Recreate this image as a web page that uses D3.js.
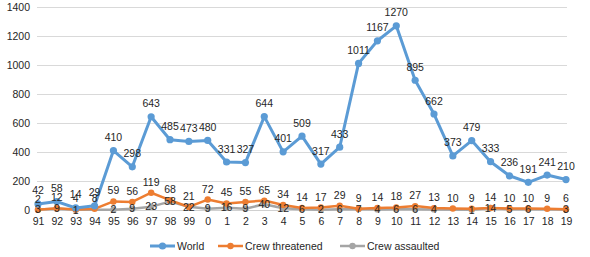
<!DOCTYPE html>
<html>
<head>
<meta charset="utf-8">
<script src="https://cdn.jsdelivr.net/npm/d3@7"></script>
<style>
  body { margin: 0; background: #fff; }
  svg { display: block; font-family: "Liberation Sans", Arial, sans-serif; }
</style>
</head>
<body>
<svg id="chart" width="590" height="257"></svg>
<script>
const width = 590;
const height = 257;

// years on the category axis
const years = ["91","92","93","94","95","96","97","98","99","0","1","2","3","4","5","6","7","8","9","10","11","12","13","14","15","16","17","18","19"];
const world = [42,58,14,29,410,298,643,485,473,480,331,327,644,401,509,317,433,1011,1167,1270,895,662,373,479,333,236,191,241,210];
const crewThreatened = [2,12,4,8,59,56,119,68,21,72,45,55,65,34,14,17,29,9,14,18,27,13,10,9,14,10,10,9,6];
// null = no label visible in the picture, line just connects over it
const crewAssaulted = [3,9,1,null,2,9,23,58,22,9,16,9,40,12,6,2,6,7,4,6,6,4,null,1,14,5,6,null,3];
const yTicks = [0,200,400,600,800,1000,1200,1400];

const series = [
    { name: "World", values: world, color: "#5b9bd5", lw: 3, r: 3.6, labelDy: -9.5 },
    { name: "Crew threatened", values: crewThreatened, color: "#ed7d31", lw: 2.5, r: 3.2, labelDy: -7 },
    { name: "Crew assaulted", values: crewAssaulted, color: "#a5a5a5", lw: 2.5, r: 3.2, labelDy: 3.7 }
];

const svg = d3.select("#chart");

const x = d3.scalePoint()
    .domain(years)
    .range([38, 566]);

const y = d3.scaleLinear()
    .domain([0, 1400])
    .range([210, 7]);

// gridlines
svg.append("g")
    .selectAll("line")
    .data(yTicks)
    .join("line")
    .attr("x1", 37)
    .attr("x2", 567)
    .attr("y1", d => Math.round(y(d)) + 0.5)
    .attr("y2", d => Math.round(y(d)) + 0.5)
    .attr("stroke", d => d === 0 ? "#d0d0d0" : "#d9d9d9")
    .attr("stroke-width", 1);

// y axis labels (no thousands separator)
const yAxis = svg.append("g")
    .attr("transform", "translate(30,0)")
    .call(d3.axisLeft(y).tickValues(yTicks).tickFormat(d3.format("d")).tickSize(0).tickPadding(0));
yAxis.select(".domain").remove();
yAxis.selectAll("text")
    .attr("font-size", "10.5px")
    .attr("fill", "#262626")
    .attr("font-family", "Liberation Sans, Arial, sans-serif");

// x axis labels
const xAxis = svg.append("g")
    .attr("transform", "translate(0,215)")
    .call(d3.axisBottom(x).tickSize(0).tickPadding(3));
xAxis.select(".domain").remove();
xAxis.selectAll("text")
    .attr("font-size", "10.5px")
    .attr("fill", "#262626")
    .attr("font-family", "Liberation Sans, Arial, sans-serif");

const line = d3.line()
    .x(d => x(d.year))
    .y(d => y(d.value));

// draw series back to front: assaulted, threatened, world
const drawOrder = [series[2], series[1], series[0]];

drawOrder.forEach(s => {
    const pts = s.values
        .map((v, i) => ({ year: years[i], value: v }))
        .filter(d => d.value !== null);

    svg.append("path")
        .datum(pts)
        .attr("fill", "none")
        .attr("stroke", s.color)
        .attr("stroke-width", s.lw)
        .attr("stroke-linejoin", "round")
        .attr("d", line);

    svg.append("g")
        .selectAll("circle")
        .data(pts)
        .join("circle")
        .attr("cx", d => x(d.year))
        .attr("cy", d => y(d.value))
        .attr("r", s.r)
        .attr("fill", s.color);
});

// data labels on top of everything
series.forEach(s => {
    const pts = s.values
        .map((v, i) => ({ year: years[i], value: v }))
        .filter(d => d.value !== null);

    svg.append("g")
        .selectAll("text")
        .data(pts)
        .join("text")
        .attr("x", d => x(d.year))
        .attr("y", d => y(d.value) + s.labelDy)
        .attr("text-anchor", "middle")
        .attr("font-size", "10.5px")
        .attr("fill", "#262626")
        .text(d => d.value);
});

// legend
const legendX = [150, 218, 340];
const legend = svg.append("g")
    .selectAll("g")
    .data(series)
    .join("g")
    .attr("transform", (d, i) => `translate(${legendX[i]},246)`);

legend.append("line")
    .attr("x1", 0)
    .attr("x2", 25)
    .attr("stroke", d => d.color)
    .attr("stroke-width", d => d.lw);

legend.append("circle")
    .attr("cx", 12.5)
    .attr("r", d => d.r)
    .attr("fill", d => d.color);

legend.append("text")
    .attr("x", 27)
    .attr("dy", "0.35em")
    .attr("font-size", "10.5px")
    .attr("fill", "#262626")
    .text(d => d.name);
</script>
</body>
</html>
